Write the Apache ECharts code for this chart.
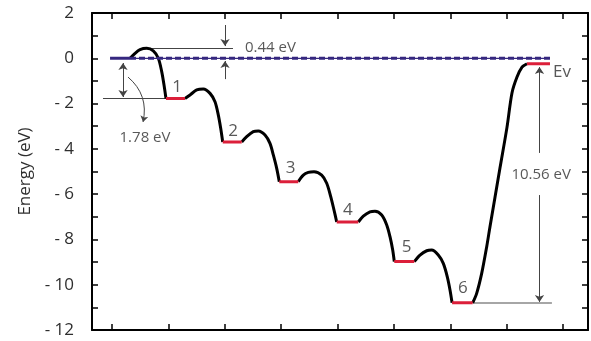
<!DOCTYPE html>
<html><head><meta charset="utf-8">
<script src="https://cdn.jsdelivr.net/npm/echarts@6/dist/echarts.min.js"></script>
<style>html,body{margin:0;padding:0;background:#fff}#c{width:591px;height:341px}</style>
</head><body><div id="c"></div>
<script>
// ---- data (x: reaction coordinate in tick units, y: energy in eV) ----
const yTickLabels = [-12, -10, -8, -6, -4, -2, 0, 2];
const stateLabels = ['1', '2', '3', '4', '5', '6'];
const levelStart  = [-0.035, 0.957, 1.963, 2.966, 3.984, 5.005, 6.030, 7.358];
const levelEnd    = [0.319, 1.294, 2.300, 3.303, 4.367, 5.360, 6.395, 7.766];
const levelEnergy = [0, -1.78, -3.70, -5.45, -7.23, -8.98, -10.80, -0.24];
const hump0 = [[0.319,0],[0.408,0.22],[0.496,0.38],[0.615,0.44],[0.732,0.33],[0.821,0.0],[0.881,-0.59],[0.922,-1.18],[0.957,-1.78]];
const hump1 = [[1.294,-1.78],[1.383,-1.62],[1.502,-1.40],[1.619,-1.36],[1.738,-1.55],[1.826,-1.92],[1.885,-2.51],[1.927,-3.09],[1.963,-3.70]];
const hump2 = [[2.300,-3.70],[2.388,-3.46],[2.505,-3.24],[2.594,-3.21],[2.713,-3.39],[2.801,-3.76],[2.860,-4.27],[2.920,-4.86],[2.966,-5.45]];
const hump3 = [[3.303,-5.45],[3.392,-5.16],[3.480,-5.04],[3.582,-5.01],[3.718,-5.16],[3.807,-5.52],[3.878,-6.11],[3.936,-6.70],[3.984,-7.23]];
const hump4 = [[4.367,-7.23],[4.456,-6.97],[4.574,-6.78],[4.663,-6.75],[4.782,-6.92],[4.871,-7.36],[4.929,-7.88],[4.977,-8.47],[5.005,-8.98]];
const hump5 = [[5.360,-8.98],[5.461,-8.69],[5.580,-8.50],[5.668,-8.47],[5.785,-8.69],[5.874,-9.06],[5.945,-9.65],[5.993,-10.23],[6.030,-10.80]];
const riseToEv = [[6.395,-10.80],[6.466,-10.38],[6.555,-9.50],[6.644,-8.32],[6.702,-7.44],[6.879,-4.85],[7.004,-3.04],[7.092,-1.53],[7.181,-0.83],[7.270,-0.39],[7.358,-0.24]];
const evLine = [[0.319, 0], [7.766, 0]];
// annotations
const guideLines = [[[0.621,0.44],[2.145,0.44]], [[-0.16,-1.78],[0.957,-1.78]]];
const guideLine6 = [[6.40,-10.80],[7.80,-10.80]];
const arrowLines = [[[2.004,1.47],[2.004,0.54]], [[2.004,-0.92],[2.004,-0.12]], [[7.58,-4.18],[7.58,-0.39]], [[7.58,-6.04],[7.58,-10.76]]];
const doubleArrow = [[0.195,-0.21],[0.195,-1.71]];
const curvedArrow = [[0.284,-0.83],[0.550,-2.81]];
const annotTexts = ['0.44 eV', '1.78 eV', '10.56 eV'];
const annotPos = [[2.358,0.45],[0.585,-3.52],[7.61,-5.16]];
const annotAlign = ['left', 'center', 'center'];
const stateLabelPos = [[1.152,-1.27],[2.145,-3.20],[3.168,-4.85],[4.184,-6.70],[5.225,-8.35],[6.223,-10.13]];
const evLabel = 'Ev';
const evLabelPos = [7.82, -0.61];

// ---- chart ----
const FONT = "'Open Sans', 'DejaVu Sans', sans-serif";
const RED = '#dc1f3a', PURPLE = '#35277f', TXT = '#2e2e2e';
const series = [];
[hump0, hump1, hump2, hump3, hump4, hump5, riseToEv].forEach(h => series.push({
  type: 'line', data: h, smooth: 0.3, showSymbol: false, symbol: 'none',
  lineStyle: { color: '#000', width: 3 }, z: 3, silent: true
}));
// purple thin + dashed Ev line
series.push({ type: 'line', data: evLine, symbol: 'none', lineStyle: { color: PURPLE, width: 1.2 }, z: 4 });
series.push({ type: 'line', data: evLine, symbol: 'none', lineStyle: { color: PURPLE, width: 3, type: [6, 3] }, z: 4 });
// levels
levelStart.forEach((x0, i) => series.push({
  type: 'line', data: [[x0, levelEnergy[i]], [levelEnd[i], levelEnergy[i]]], symbol: 'none',
  lineStyle: { color: i === 0 ? PURPLE : RED, width: 3 }, z: 5
}));
// guide lines
series.push({ type: 'lines', coordinateSystem: 'cartesian2d', symbol: 'none', z: 2,
  lineStyle: { color: '#444', width: 1, opacity: 1 },
  data: guideLines.map(c => ({ coords: c })) });
series.push({ type: 'lines', coordinateSystem: 'cartesian2d', symbol: 'none', z: 2,
  lineStyle: { color: '#888', width: 1.5, opacity: 1 },
  data: [{ coords: guideLine6 }] });
series.push({ type: 'lines', coordinateSystem: 'cartesian2d', symbol: ['none', 'arrow'], symbolSize: 7, z: 2,
  lineStyle: { color: '#444', width: 1, opacity: 1 },
  data: arrowLines.map(c => ({ coords: c })) });
series.push({ type: 'lines', coordinateSystem: 'cartesian2d', symbol: ['arrow', 'arrow'], symbolSize: 7, z: 2,
  lineStyle: { color: '#444', width: 1, opacity: 1 },
  data: [{ coords: doubleArrow }] });
series.push({ type: 'lines', coordinateSystem: 'cartesian2d', symbol: ['none', 'arrow'], symbolSize: 6, z: 2,
  lineStyle: { color: '#444', width: 1, opacity: 1, curveness: 0.3 },
  data: [{ coords: curvedArrow }] });
// texts
series.push({ type: 'scatter', symbolSize: 0, z: 6, silent: true,
  data: annotTexts.map((t, i) => ({ name: t, value: annotPos[i],
    label: { show: true, position: 'inside', formatter: t, align: annotAlign[i], verticalAlign: 'middle',
      color: TXT, fontSize: 15, fontFamily: FONT } })) });
series.push({ type: 'scatter', symbolSize: 0, z: 6, silent: true,
  data: stateLabels.map((t, i) => ({ name: t, value: stateLabelPos[i] })).concat([{ name: evLabel, value: evLabelPos,
    label: { align: 'left' } }]),
  label: { show: true, position: 'inside', formatter: p => p.name, align: 'center', verticalAlign: 'middle',
    color: TXT, fontSize: 17, fontFamily: FONT } });

const xAx = pos => ({
  type: 'value', position: pos, min: -0.355, max: 8.44, minInterval: 1, maxInterval: 1, splitNumber: 9,
  axisLine: { show: true, onZero: false, lineStyle: { color: '#000', width: 2 } },
  axisTick: { show: true, inside: true, length: 6, lineStyle: { color: '#000', width: 1.5 } },
  axisLabel: { show: false }, splitLine: { show: false }
});
const yAx = (pos, labels) => ({
  type: 'value', position: pos, min: -12, max: 2, interval: 1,
  axisLine: { show: true, onZero: false, lineStyle: { color: '#000', width: 2 } },
  axisTick: { show: true, inside: true, length: 6, lineStyle: { color: '#000', width: 1.5 } },
  axisLabel: { show: labels, margin: 18, color: TXT, fontSize: 17, fontFamily: FONT,
    formatter: v => yTickLabels.includes(v) ? (v < 0 ? '- ' + (-v) : String(v)) : '' },
  splitLine: { show: false },
  name: labels ? 'Energy (eV)' : '', nameLocation: 'middle', nameGap: 58, nameRotate: 90,
  nameTextStyle: { color: TXT, fontSize: 17, fontFamily: FONT }
});

const chart = echarts.init(document.getElementById('c'), null, { renderer: 'canvas' });
chart.setOption({
  animation: false,
  backgroundColor: '#fff',
  grid: { left: 92, right: 3, top: 13, bottom: 11, containLabel: false },
  xAxis: [xAx('bottom'), xAx('top')],
  yAxis: [yAx('left', true), yAx('right', false)],
  series: series
});
</script></body></html>
